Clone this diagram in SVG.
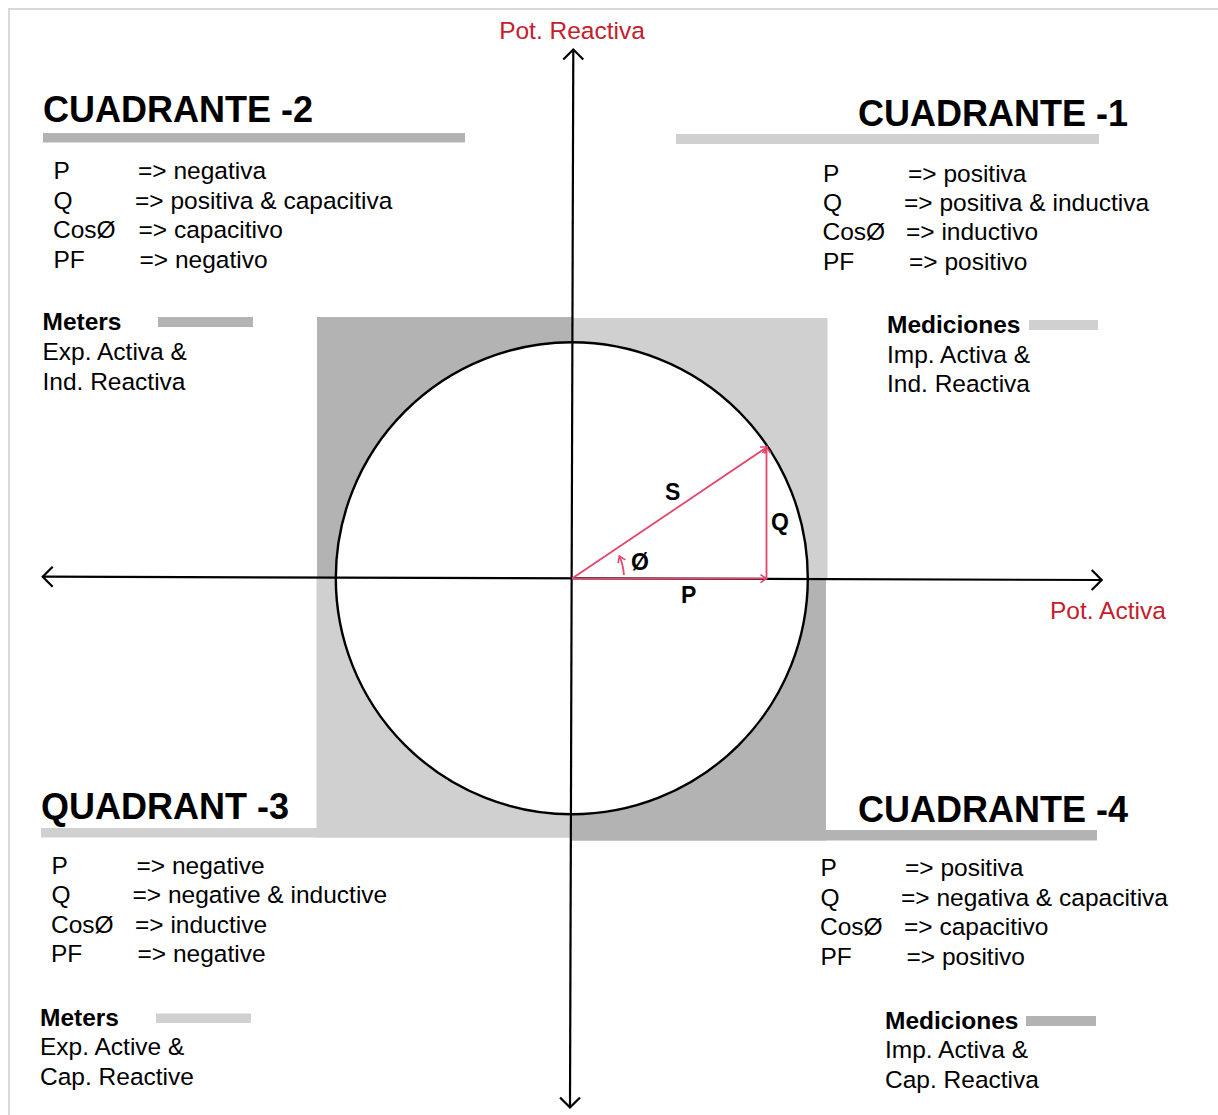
<svg xmlns="http://www.w3.org/2000/svg" width="1218" height="1115" viewBox="0 0 1218 1115">
  <defs>
    <style>
      .t { font-family: "Liberation Sans", Arial, sans-serif; font-size: 24.5px; fill: #000; }
      .b { font-weight: bold; }
      .title { font-family: "Liberation Sans", Arial, sans-serif; font-size: 36px; font-weight: bold; fill: #000; }
      .red { font-family: "Liberation Sans", Arial, sans-serif; font-size: 24.5px; fill: #c4202c; }
      .lab { font-family: "Liberation Sans", Arial, sans-serif; font-size: 23px; font-weight: bold; fill: #000; }
      .dark { fill: #b3b3b3; }
      .light { fill: #d0d0d0; }
      .axis { stroke: #000; stroke-width: 2.2; fill: none; }
      .vec { stroke: #e5456a; stroke-width: 1.8; fill: none; }
    </style>
    <marker id="axArrow" viewBox="-14 -13 16 26" refX="0" refY="0" markerWidth="16" markerHeight="26" markerUnits="userSpaceOnUse" orient="auto-start-reverse">
      <path d="M-10,-10 L0,0 L-10,10" fill="none" stroke="#000" stroke-width="2.2"/>
    </marker>
    <marker id="vecArrow" viewBox="-10 -7 12 14" refX="0" refY="0" markerWidth="12" markerHeight="14" markerUnits="userSpaceOnUse" orient="auto">
      <path d="M-6,-4 L0,0 L-6,4" fill="none" stroke="#e5456a" stroke-width="1.6"/>
    </marker>
  </defs>

  <rect width="1218" height="1115" fill="#fff"/>
  <path d="M9,1115 V9 H1218" fill="none" stroke="#d9d9d9" stroke-width="2"/>

  <g id="shading">
    <rect class="dark" x="317" y="317" width="255" height="261"/>
    <rect class="light" x="572" y="318" width="255.5" height="260"/>
    <rect class="light" x="316.5" y="578" width="255.5" height="259.5"/>
    <rect class="dark" x="572" y="578" width="254" height="262.5"/>
    <rect class="dark" x="43" y="133" width="422" height="9.5"/>
    <rect class="light" x="676" y="134" width="423" height="10"/>
    <rect class="light" x="41" y="828" width="531" height="9.5"/>
    <rect class="dark" x="572" y="830" width="525" height="10.5"/>
  </g>

  <circle id="circle" cx="571.8" cy="578.2" r="236" fill="#fff" stroke="#000" stroke-width="2.4"/>

  <g id="connectors">
    <line class="axis" x1="573.3" y1="49.5" x2="570" y2="1107.5" marker-start="url(#axArrow)" marker-end="url(#axArrow)"/>
    <line class="axis" x1="42.7" y1="576.7" x2="1101.7" y2="580" marker-start="url(#axArrow)" marker-end="url(#axArrow)"/>
    <line class="vec" x1="572" y1="578.6" x2="767.2" y2="447" marker-end="url(#vecArrow)"/>
    <line class="vec" x1="572" y1="578.6" x2="766.5" y2="578.6" marker-end="url(#vecArrow)"/>
    <line class="vec" x1="766.5" y1="578.6" x2="766.5" y2="447" marker-end="url(#vecArrow)"/>
    <path class="vec" d="M623.9,575 A52,52 0 0 0 619.3,556" marker-end="url(#vecArrow)"/>
  </g>

  <g id="triangle-labels">
    <text class="lab" x="665" y="500">S</text>
    <text class="lab" x="771" y="529.5">Q</text>
    <text class="lab" x="681" y="602.5">P</text>
    <text class="lab" x="631" y="569.5">Ø</text>
  </g>

  <g id="axis-labels">
    <text class="red" x="572" y="38.5" text-anchor="middle">Pot. Reactiva</text>
    <text class="red" x="1050" y="618.5">Pot. Activa</text>
  </g>

  <g id="quadrant-2">
    <text class="title" x="43" y="122">CUADRANTE -2</text>
    <text class="t" x="53.5" y="179">P</text><text class="t" x="138" y="179">=&gt; negativa</text>
    <text class="t" x="53.5" y="208.5">Q</text><text class="t" x="135" y="208.5">=&gt; positiva &amp; capacitiva</text>
    <text class="t" x="53" y="238">CosØ</text><text class="t" x="138.5" y="238">=&gt; capacitivo</text>
    <text class="t" x="53.5" y="267.5">PF</text><text class="t" x="139.5" y="267.5">=&gt; negativo</text>
    <text class="t b" x="42.5" y="330">Meters</text>
    <rect class="dark" x="158" y="317" width="95" height="10"/>
    <text class="t" x="42.5" y="360">Exp. Activa &amp;</text>
    <text class="t" x="42.5" y="389.5">Ind. Reactiva</text>
  </g>

  <g id="quadrant-1">
    <text class="title" x="858" y="126">CUADRANTE -1</text>
    <text class="t" x="823" y="181.5">P</text><text class="t" x="908" y="181.5">=&gt; positiva</text>
    <text class="t" x="823" y="211">Q</text><text class="t" x="904" y="211">=&gt; positiva &amp; inductiva</text>
    <text class="t" x="822.5" y="240">CosØ</text><text class="t" x="906" y="240">=&gt; inductivo</text>
    <text class="t" x="823" y="269.5">PF</text><text class="t" x="909" y="269.5">=&gt; positivo</text>
    <text class="t b" x="887" y="332.5">Mediciones</text>
    <rect class="light" x="1029" y="320" width="69" height="10"/>
    <text class="t" x="887" y="362.5">Imp. Activa &amp;</text>
    <text class="t" x="887" y="392">Ind. Reactiva</text>
  </g>

  <g id="quadrant-3">
    <text class="title" x="41" y="819">QUADRANT -3</text>
    <text class="t" x="51.5" y="873.5">P</text><text class="t" x="136.5" y="873.5">=&gt; negative</text>
    <text class="t" x="51.5" y="903">Q</text><text class="t" x="132.5" y="903">=&gt; negative &amp; inductive</text>
    <text class="t" x="51" y="932.5">CosØ</text><text class="t" x="135" y="932.5">=&gt; inductive</text>
    <text class="t" x="51" y="962">PF</text><text class="t" x="137.5" y="962">=&gt; negative</text>
    <text class="t b" x="40" y="1026">Meters</text>
    <rect class="light" x="156" y="1013.5" width="95" height="9.5"/>
    <text class="t" x="40" y="1055">Exp. Active &amp;</text>
    <text class="t" x="40" y="1084.5">Cap. Reactive</text>
  </g>

  <g id="quadrant-4">
    <text class="title" x="858" y="822">CUADRANTE -4</text>
    <text class="t" x="820.5" y="876">P</text><text class="t" x="905" y="876">=&gt; positiva</text>
    <text class="t" x="820.5" y="905.5">Q</text><text class="t" x="901" y="905.5">=&gt; negativa &amp; capacitiva</text>
    <text class="t" x="820" y="935">CosØ</text><text class="t" x="904" y="935">=&gt; capacitivo</text>
    <text class="t" x="820.5" y="964.5">PF</text><text class="t" x="906.5" y="964.5">=&gt; positivo</text>
    <text class="t b" x="885" y="1028.5">Mediciones</text>
    <rect class="dark" x="1026" y="1016" width="70" height="10"/>
    <text class="t" x="885" y="1058">Imp. Activa &amp;</text>
    <text class="t" x="885" y="1087.5">Cap. Reactiva</text>
  </g>
</svg>
